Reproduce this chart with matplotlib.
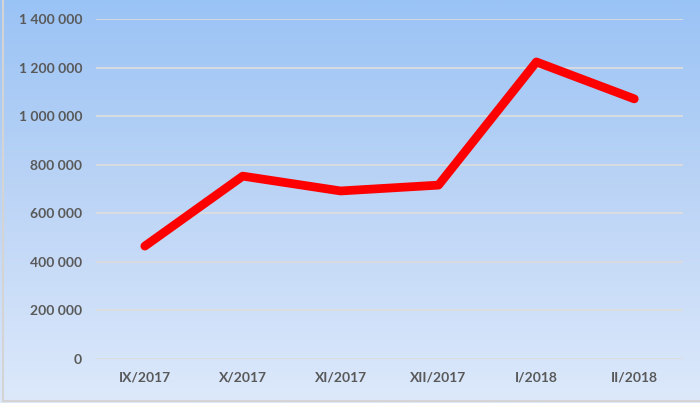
import matplotlib
matplotlib.use("Agg")
import matplotlib.pyplot as plt
import numpy as np
from matplotlib.colors import LinearSegmentedColormap
from matplotlib.ticker import FuncFormatter

# Data
months = ['IX/2017', 'X/2017', 'XI/2017', 'XII/2017', 'I/2018', 'II/2018']
values = [465000, 753000, 692000, 716000, 1223000, 1071000]
y_ticks = [0, 200000, 400000, 600000, 800000, 1000000, 1200000, 1400000]

fig = plt.figure(figsize=(7, 4.03), dpi=100)

# gradient background over the whole figure
bg = fig.add_axes([0, 0, 1, 1], zorder=0)
cmap = LinearSegmentedColormap.from_list('bg', ['#9ac3f5', '#bdd5f6', '#dde9fb'])
grad = np.linspace(0, 1, 256).reshape(-1, 1)
bg.imshow(grad, aspect='auto', cmap=cmap, extent=[0, 1, 0, 1])
# thin grey frame on the left and bottom edges
bg.plot([0.004, 0.004], [0.005, 1], color='#d4d4d4', linewidth=1.5)
bg.plot([0.004, 1], [0.005, 0.005], color='#d4d4d4', linewidth=1.5)
bg.set_xlim(0, 1)
bg.set_ylim(0, 1)
bg.set_axis_off()

ax = fig.add_axes([0.137, 0.109, 0.839, 0.844], zorder=1)
ax.patch.set_alpha(0)

x = np.arange(len(months))
ax.plot(x, values, color='#ff0000', linewidth=6.3, solid_capstyle='round',
        solid_joinstyle='round', zorder=3)

ax.set_xlim(-0.5, len(months) - 0.5)
ax.set_ylim(0, 1400000)
ax.set_yticks(y_ticks)
ax.yaxis.set_major_formatter(FuncFormatter(lambda v, p: f'{int(v):,}'.replace(',', ' ')))
ax.set_xticks(x)
ax.set_xticklabels(months)

ax.grid(axis='y', color='#dcdcdc', linewidth=1.3)
ax.set_axisbelow(True)
for s in ax.spines.values():
    s.set_visible(False)
ax.tick_params(length=0, colors='#595959', labelsize=10, pad=10)
ax.tick_params(axis='x', pad=9)
for lab in ax.get_xticklabels() + ax.get_yticklabels():
    lab.set_fontfamily('Lato')
    lab.set_fontweight('bold')

fig.savefig('out.png', dpi=100)
